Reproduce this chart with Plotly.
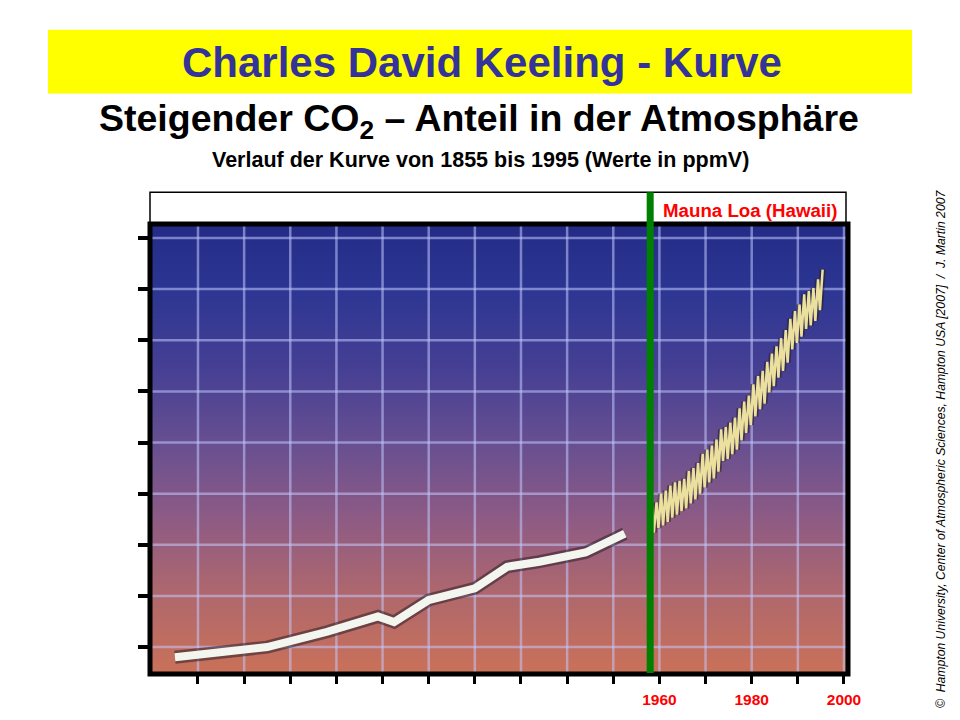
import plotly.graph_objects as go

# ---------------- data ----------------
# Historic (ice-core) part of the curve, 1855 - ~1953
PRE_YEARS = [1855, 1861, 1875, 1888, 1899, 1902.5, 1910, 1920, 1927, 1934, 1944, 1952.5]
PRE_PPM = [288.0, 288.5, 290.0, 293.0, 296.0, 294.9, 299.2, 301.5, 305.7, 306.7, 308.5, 312.2]

# Mauna Loa seasonal maxima (May) and minima (October), ppmV
ML_PEAK_YEARS = list(range(1958, 1996))
ML_PEAKS = [317.5, 318.3, 320.0, 320.6, 321.6, 322.2, 322.5, 322.9, 324.4, 325.0,
            326.0, 327.8, 328.6, 329.4, 330.6, 332.6, 333.0, 333.9, 334.9, 336.7,
            338.0, 339.2, 341.4, 343.0, 344.0, 345.8, 347.4, 348.8, 350.4, 352.0,
            354.2, 355.7, 357.0, 359.0, 359.6, 360.2, 361.9, 363.8]
ML_TROUGH_YEARS = list(range(1958, 1995))
ML_TROUGHS = [312.4, 313.3, 313.8, 314.5, 315.3, 315.9, 316.6, 317.1, 318.1, 318.9,
              320.0, 321.2, 322.2, 323.0, 324.3, 326.4, 326.8, 327.7, 328.6, 330.4,
              331.9, 333.4, 335.1, 336.5, 337.6, 339.8, 341.0, 342.7, 344.0, 345.6,
              348.2, 349.5, 350.7, 352.2, 352.9, 353.8, 355.9]
PEAK_MONTH = 5
TROUGH_MONTH = 10

MAUNA_LOA_START = 1958.0

X_TICKS = list(range(1860, 2001, 10))
X_LABELLED = [1960, 1980, 2000]
Y_TICKS = list(range(290, 371, 10))

X_RANGE = [1849.6, 2000.87]
Y_RANGE = [284.74, 372.73]

# background gradient (ppm level -> colour)
GRAD_PPM = [284.74, 300, 315, 330, 345, 360, 372.73]
GRAD_COLORS = ["#ca7158", "#b0686c", "#8e5b84", "#674f91", "#453f94", "#2c3692", "#232b86"]

FONT = "Liberation Sans, Arial, sans-serif"

# ---------------- geometry helpers (pixel -> paper) ----------------
W, H = 960, 720
L, R, T, B = 150, 848, 224, 676


def px(x):
    return (x - L) / (R - L)


def py(y):
    return (B - y) / (B - T)


fig = go.Figure()

# gradient background
zmin, zmax = GRAD_PPM[0], GRAD_PPM[-1]
cscale = [[(v - zmin) / (zmax - zmin), c] for v, c in zip(GRAD_PPM, GRAD_COLORS)]
rows = [GRAD_PPM[0] - 8] + GRAD_PPM + [GRAD_PPM[-1] + 8]
fig.add_trace(go.Heatmap(
    x=[X_RANGE[0] - 5, X_RANGE[1] + 5], y=rows, z=[[v, v] for v in rows],
    colorscale=cscale, zmin=zmin, zmax=zmax, zsmooth="best",
    showscale=False, hoverinfo="skip"))

# grid lines (drawn as traces so they sit above the gradient)
gx, gy = [], []
for t in X_TICKS:
    gx += [t, t, None]
    gy += [Y_RANGE[0], Y_RANGE[1], None]
for t in Y_TICKS:
    gx += [X_RANGE[0], X_RANGE[1], None]
    gy += [t, t, None]
fig.add_trace(go.Scatter(x=gx, y=gy, mode="lines",
                         line=dict(color="rgba(195,200,255,0.55)", width=2.5),
                         hoverinfo="skip", showlegend=False))

# historic curve: dark halo + white line
for col, w in [("rgba(45,30,40,0.55)", 13), ("#f3f6ef", 8)]:
    fig.add_trace(go.Scatter(x=PRE_YEARS, y=PRE_PPM, mode="lines",
                             line=dict(color=col, width=w),
                             hoverinfo="skip", showlegend=False))

# Mauna Loa zig-zag
mx, my = [], []
for i, yr in enumerate(ML_PEAK_YEARS):
    mx.append(yr + (PEAK_MONTH - 0.5) / 12)
    my.append(ML_PEAKS[i])
    if i < len(ML_TROUGHS):
        mx.append(ML_TROUGH_YEARS[i] + (TROUGH_MONTH - 0.5) / 12)
        my.append(ML_TROUGHS[i])
for col, w in [("rgba(40,30,25,0.55)", 6), ("#ebe09e", 2.5)]:
    fig.add_trace(go.Scatter(x=mx, y=my, mode="lines",
                             line=dict(color=col, width=w),
                             hoverinfo="skip", showlegend=False))

shapes = [
    # yellow title band
    dict(type="rect", xref="paper", yref="paper", x0=px(48), x1=px(912), y0=py(93), y1=py(29),
         fillcolor="#ffff00", line=dict(width=0), layer="below"),
    # white box above the plot
    dict(type="rect", xref="paper", yref="paper", x0=0, x1=px(846), y0=1, y1=py(192),
         fillcolor="white", line=dict(color="black", width=1.5)),
    # frame
    dict(type="rect", xref="paper", yref="paper", x0=0, x1=1, y0=0, y1=1,
         line=dict(color="black", width=5), fillcolor="rgba(0,0,0,0)"),
    # green start-of-measurement line
    dict(type="line", xref="x", yref="paper", x0=MAUNA_LOA_START, x1=MAUNA_LOA_START,
         y0=py(675), y1=py(192), line=dict(color="#008000", width=7)),
]

annotations = [
    dict(text="<b>Charles David Keeling - Kurve</b>", xref="paper", yref="paper",
         x=px(482), y=py(62), xanchor="center", yanchor="middle", showarrow=False,
         font=dict(family=FONT, size=42, color="#33339a")),
    dict(text="<b>Steigender CO<sub>2</sub> \u2013 Anteil in der Atmosph\u00e4re</b>",
         xref="paper", yref="paper", x=px(479), y=py(121), xanchor="center", yanchor="middle",
         showarrow=False, font=dict(family=FONT, size=37.5, color="black")),
    dict(text="<b>Verlauf der Kurve von 1855 bis 1995 (Werte in ppmV)</b>",
         xref="paper", yref="paper", x=px(480), y=py(160), xanchor="center", yanchor="middle",
         showarrow=False, font=dict(family=FONT, size=21.5, color="black")),
    dict(text="<b>Mauna Loa (Hawaii)</b>", xref="paper", yref="paper",
         x=px(661), y=py(210), xanchor="left", yanchor="middle", showarrow=False,
         font=dict(family=FONT, size=18.7, color="#ff0000")),
    dict(text="<i>\u00a9  Hampton University, Center of Atmospheric Sciences, Hampton USA [2007]  /  J. Martin 2007</i>",
         xref="paper", yref="paper", x=px(941), y=py(450), xanchor="center", yanchor="middle",
         textangle=-90, showarrow=False, font=dict(family=FONT, size=12.2, color="black")),
]

fig.update_layout(
    width=W, height=H, autosize=False,
    margin=dict(l=L, r=W - R, t=T, b=H - B, pad=0),
    paper_bgcolor="white", plot_bgcolor="#232b86",
    showlegend=False,
    shapes=shapes, annotations=annotations,
    xaxis=dict(range=X_RANGE, tickmode="array", tickvals=X_LABELLED,
               ticktext=["<b>%d</b>" % t for t in X_LABELLED],
               ticks="outside", ticklen=9, tickwidth=2.5, tickcolor="black",
               tickfont=dict(family=FONT, size=15.5, color="#ff0000"),
               ticklabelstandoff=2,
               minor=dict(tickmode="array",
                          tickvals=[t for t in X_TICKS if t not in X_LABELLED],
                          ticks="outside", ticklen=9, tickwidth=2.5, tickcolor="black",
                          showgrid=False),
               showgrid=False, zeroline=False, showline=False, fixedrange=True),
    yaxis=dict(range=Y_RANGE, tickvals=Y_TICKS, showticklabels=False,
               ticks="outside", ticklen=11, tickwidth=3.5, tickcolor="black",
               showgrid=False, zeroline=False, showline=False, fixedrange=True),
)

fig.write_html("out.html", config={"displayModeBar": False},
               post_script="document.body.style.margin='0';")
